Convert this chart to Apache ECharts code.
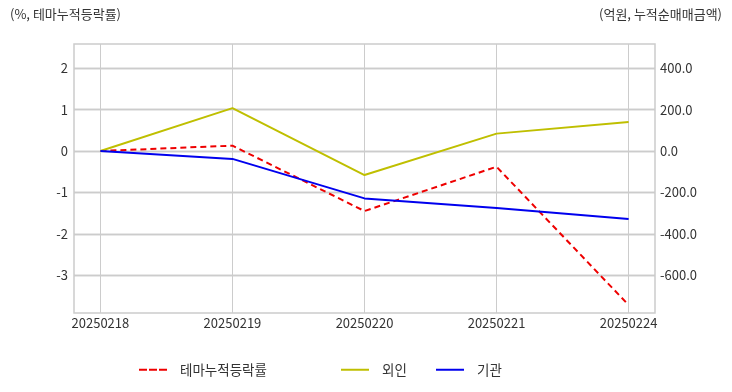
<!DOCTYPE html>
<html><head><meta charset="utf-8">
<script src="https://cdn.jsdelivr.net/npm/echarts@6/dist/echarts.min.js"></script>
<style>html,body{margin:0;padding:0;background:#fff}#c{width:732px;height:392px}</style>
</head><body><div id="c"></div>
<script>
const categories = ['20250218','20250219','20250220','20250221','20250224'];
const themeRate = [0, 0.13, -1.45, -0.38, -3.72];
const foreign = [0, 207, -116, 84, 140];
const institution = [0, -38, -229, -275, -328];
const leftTicks = [-3,-2,-1,0,1,2];
const rightTicks = [-600,-400,-200,0,200,400];
const xTicks = [0,1,2,3,4];

const font = '"Noto Sans CJK KR", "Noto Sans", sans-serif';
const gridColor = '#cccccc';
const toPairs = arr => arr.map((v,i)=>[i,v]);
const legendBase = {top:358, itemWidth:28, itemHeight:10,
  textStyle:{fontSize:13.5, color:'#333', fontFamily:font, padding:[0,0,0,8]}};

const chart = echarts.init(document.getElementById('c'), null, {renderer:'canvas'});
chart.setOption({
  animation:false,
  textStyle:{fontFamily:font},
  graphic:[
    {type:'text', left:10, top:8, style:{text:'(%, 테마누적등락률)', font:'13px '+font, fill:'#333'}},
    {type:'text', right:10, top:8, style:{text:'(억원, 누적순매매금액)', font:'13px '+font, fill:'#333'}}
  ],
  grid:{left:74, right:77, top:44, bottom:79, show:true, borderColor:gridColor, borderWidth:1.5, backgroundColor:'transparent'},
  legend:[
    Object.assign({left:134, data:[{name:'테마누적등락률', icon:'path://M0,4h8v2h-8zM10,4h8v2h-8zM20,4h8v2h-8z'}]}, legendBase),
    Object.assign({left:336, data:[{name:'외인', icon:'path://M0,4h28v2h-28z'}]}, legendBase),
    Object.assign({left:431, data:[{name:'기관', icon:'path://M0,4h28v2h-28z'}]}, legendBase)
  ],
  xAxis:{
    type:'value', min:-0.2, max:4.2,
    axisLine:{show:false}, axisTick:{show:false, customValues:xTicks},
    splitLine:{show:true, lineStyle:{color:gridColor, width:1}},
    axisLabel:{customValues:xTicks, formatter:v=>categories[Math.round(v)]||'', color:'#333', fontSize:13, margin:4}
  },
  yAxis:[
    {type:'value', min:-3.913, max:2.585, position:'left',
     axisLine:{show:false}, axisTick:{show:false, customValues:leftTicks},
     splitLine:{show:true, lineStyle:{color:gridColor, width:1.3}},
     axisLabel:{customValues:leftTicks, color:'#333', fontSize:13, margin:6}},
    {type:'value', min:-782.6, max:517, position:'right',
     axisLine:{show:false}, axisTick:{show:false, customValues:rightTicks},
     splitLine:{show:true, lineStyle:{color:gridColor, width:1.3}},
     axisLabel:{customValues:rightTicks, formatter:v=>v.toFixed(1), color:'#333', fontSize:13, margin:5}}
  ],
  series:[
    {name:'테마누적등락률', type:'line', yAxisIndex:0, data:toPairs(themeRate), symbol:'none',
     lineStyle:{color:'#ee0000', width:2, type:[6,4]}, itemStyle:{color:'#ee0000'}},
    {name:'외인', type:'line', yAxisIndex:1, data:toPairs(foreign), symbol:'none',
     lineStyle:{color:'#bfbf00', width:2}, itemStyle:{color:'#bfbf00'}},
    {name:'기관', type:'line', yAxisIndex:1, data:toPairs(institution), symbol:'none',
     lineStyle:{color:'#0000ee', width:2}, itemStyle:{color:'#0000ee'}}
  ]
});
</script></body></html>
